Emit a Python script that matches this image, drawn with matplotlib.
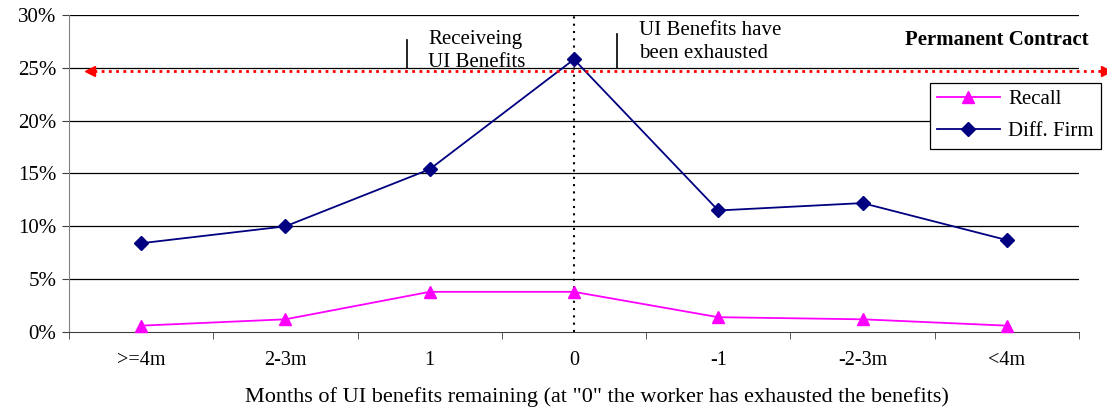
import matplotlib
matplotlib.use("Agg")
import matplotlib.pyplot as plt
from matplotlib.transforms import blended_transform_factory, Bbox, TransformedBbox
from matplotlib.ticker import FuncFormatter, FixedLocator

plt.rcParams['font.family'] = ['Liberation Serif', 'DejaVu Serif']

categories = [">=4m", "2-3m", "1", "0", "-1", "-2-3m", "<4m"]
recall = [0.6, 1.2, 3.8, 3.8, 1.4, 1.2, 0.6]
diff_firm = [8.4, 10.0, 15.4, 25.8, 11.5, 12.2, 8.7]
permanent_level = 24.7

fig = plt.figure(figsize=(11.07, 4.12), dpi=100)
ax = fig.add_axes([0.0623, 0.1942, 0.9124, 0.7694])

x = list(range(len(categories)))
ax.set_xlim(-0.5, len(categories) - 0.5)
ax.set_ylim(0, 30)

for v in range(5, 31, 5):
    ax.axhline(v, color='black', lw=0.9, zorder=1)

ax.plot(x, recall, color='#FF00FF', lw=1.3, marker='^', markersize=9,
        markerfacecolor='#FF00FF', markeredgecolor='#FF00FF', label='Recall', zorder=3, clip_on=False)
ax.plot(x, diff_firm, color='#000080', lw=1.3, marker='D', markersize=7,
        markerfacecolor='#000080', markeredgecolor='#000080', label='Diff. Firm', zorder=3)

# vertical dotted line at "0"
ax.axvline(3, color='black', lw=1.5, ls=(0, (1, 2.5)), zorder=2)

# red dotted double arrow
tr = blended_transform_factory(ax.transAxes, ax.transData)
ax.plot([0.025, 1.022], [permanent_level, permanent_level], color='red', lw=2,
        ls=(0, (1, 1.6)), transform=tr, clip_on=False, zorder=4)
ax.plot([0.0205], [permanent_level], marker='<', color='red', markersize=7, transform=tr, clip_on=False, zorder=4)
ax.plot([1.0265], [permanent_level], marker='>', color='red', markersize=7, transform=tr, clip_on=False, zorder=4)

# short vertical markers
ax.plot([1.845, 1.845], [25.0, 27.6], color='black', lw=1.2, zorder=2)
ax.plot([3.30, 3.30], [25.0, 28.2], color='black', lw=1.2, zorder=2)

t1 = ax.text(1.99, 26.6, "Receiveing\nUI Benefits", fontsize=15, va='center', ha='left',
             linespacing=1.25, zorder=2)
t1.set_clip_box(TransformedBbox(Bbox([[-1, 25.05], [8, 35]]), ax.transData))
t1.set_clip_on(True)
ax.text(3.45, 27.45, "UI Benefits have\nbeen exhausted", fontsize=15, va='center', ha='left',
        linespacing=1.25)
ax.text(6.57, 27.6, "Permanent Contract", fontsize=15, fontweight='bold',
        ha='right', va='center')

# axes styling
for s in ['top', 'right']:
    ax.spines[s].set_visible(False)
ax.spines['left'].set_color('#808080')
ax.spines['bottom'].set_color('#404040')

ax.xaxis.set_major_locator(FixedLocator(x))
ax.set_xticklabels(categories, fontsize=14.5)
ax.tick_params(axis='x', which='major', length=0, pad=14)
ax.xaxis.set_minor_locator(FixedLocator([i - 0.5 for i in range(len(categories) + 1)]))
ax.tick_params(axis='x', which='minor', length=5, color='#404040')

ax.set_yticks(range(0, 31, 5))
ax.yaxis.set_major_formatter(FuncFormatter(lambda v, p: f"{int(v)}%"))
ax.tick_params(axis='y', length=5, labelsize=15, color='#404040', pad=4)

ax.set_xlabel('Months of UI benefits remaining (at "0" the worker has exhausted the benefits)',
              fontsize=16, labelpad=12)
ax.xaxis.set_label_coords(0.523, -0.175)

leg = ax.legend(loc='upper right', bbox_to_anchor=(1.0215, 0.787), fontsize=15,
                frameon=True, fancybox=False, edgecolor='black', framealpha=1,
                handlelength=3.0, borderpad=0.35, labelspacing=0.6, handletextpad=0.4,
                borderaxespad=0)
leg.get_frame().set_linewidth(0.9)
leg.set_zorder(5)

fig.savefig("out.png", dpi=100)
